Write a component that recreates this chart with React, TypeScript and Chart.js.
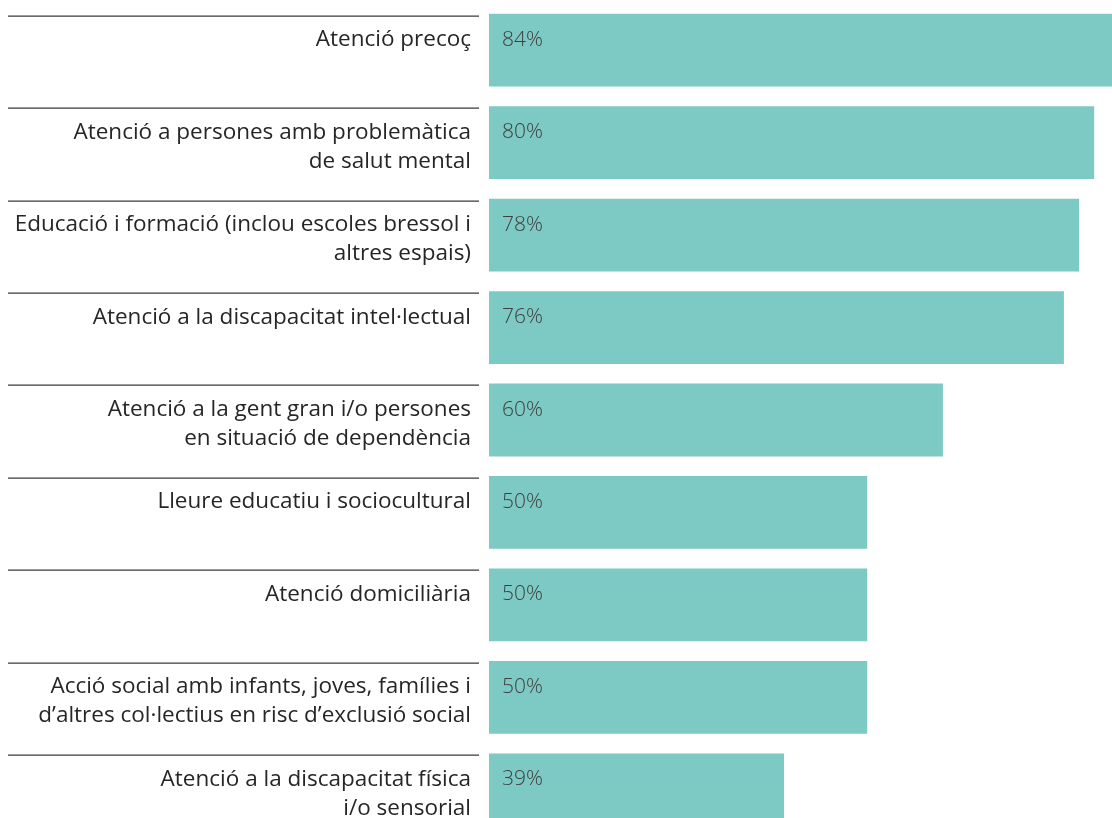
import React, { useEffect, useRef } from "react";
import { Chart, registerables } from "chart.js";

Chart.register(...registerables);

const categories: string[][] = [
  ["Atenció precoç"],
  ["Atenció a persones amb problemàtica", "de salut mental"],
  ["Educació i formació (inclou escoles bressol i", "altres espais)"],
  ["Atenció a la discapacitat intel·lectual"],
  ["Atenció a la gent gran i/o persones", "en situació de dependència"],
  ["Lleure educatiu i sociocultural"],
  ["Atenció domiciliària"],
  ["Acció social amb infants, joves, famílies i", "d’altres col·lectius en risc d’exclusió social"],
  ["Atenció a la discapacitat física", "i/o sensorial"],
];

const values: number[] = [84, 80, 78, 76, 60, 50, 50, 50, 39];

const valueLabels: string[] = values.map((v) => `${v}%`);

const BAR_COLOR = "#7ccac3";
const FONT = "'Open Sans', 'Noto Sans', sans-serif";

const rowPlugin = {
  id: "rowLabels",
  afterDraw(chart: any) {
    const ctx = chart.ctx;
    const meta = chart.getDatasetMeta(0);
    const xScale = chart.scales.x;
    const x0 = xScale.getPixelForValue(0);
    ctx.save();
    meta.data.forEach((bar: any, i: number) => {
      const top = bar.y - bar.height / 2;
      // separator line
      ctx.strokeStyle = "#3a3a3a";
      ctx.lineWidth = 1.3;
      ctx.beginPath();
      ctx.moveTo(8, Math.round(top + 1.8) + 0.15);
      ctx.lineTo(479, Math.round(top + 1.8) + 0.15);
      ctx.stroke();
      // category label
      ctx.fillStyle = "#262626";
      ctx.font = `400 22.5px ${FONT}`;
      ctx.textAlign = "right";
      ctx.textBaseline = "middle";
      categories[i].forEach((line, j) => {
        ctx.fillText(line, 471, top + 26 + j * 29);
      });
      // value label
      ctx.fillStyle = "#3f3f3f";
      ctx.font = `300 21px ${FONT}`;
      ctx.textAlign = "left";
      ctx.fillText(valueLabels[i], x0 + 13, top + 26);
    });
    ctx.restore();
  },
};

export default function App() {
  const canvasRef = useRef<HTMLCanvasElement | null>(null);

  useEffect(() => {
    if (!canvasRef.current) return;
    const chart = new Chart(canvasRef.current, {
      type: "bar",
      data: {
        labels: categories.map((c) => c.join(" ")),
        datasets: [
          {
            data: values,
            backgroundColor: BAR_COLOR,
            borderWidth: 0,
            barPercentage: 0.787,
            categoryPercentage: 1,
          },
        ],
      },
      options: {
        indexAxis: "y",
        responsive: false,
        animation: false,
        layout: { padding: { left: 489, right: 0, top: 4, bottom: 4 } },
        plugins: {
          legend: { display: false },
          tooltip: { enabled: false },
        },
        scales: {
          x: { display: false, min: 0, max: 85 },
          y: { display: false },
        },
      },
      plugins: [rowPlugin],
    });
    return () => chart.destroy();
  }, []);

  return (
    <div
      style={{
        position: "absolute",
        left: 0,
        top: 0,
        width: 1112,
        height: 818,
        overflow: "hidden",
        background: "#ffffff",
      }}
    >
      <canvas ref={canvasRef} width={1132} height={840} style={{ display: "block" }} />
    </div>
  );
}
